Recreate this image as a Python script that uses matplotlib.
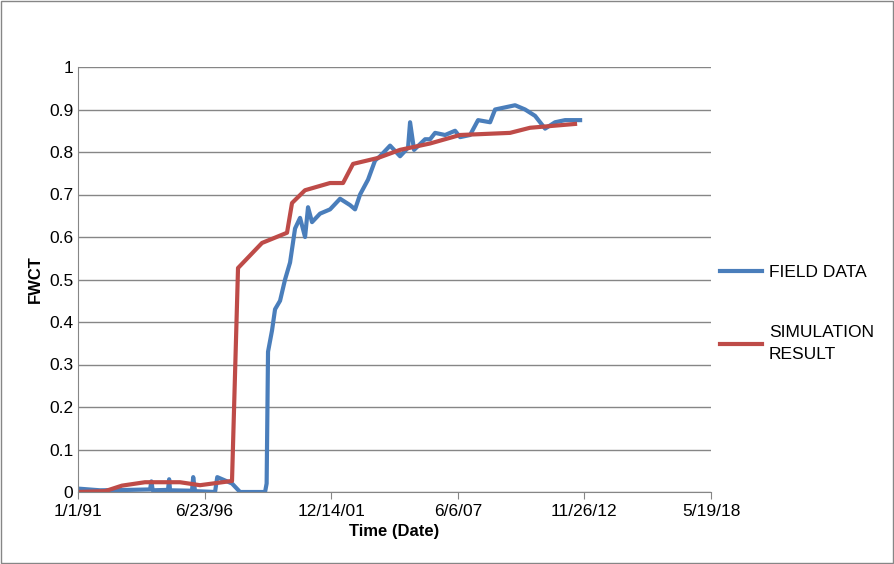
import matplotlib
matplotlib.use("Agg")
import matplotlib.pyplot as plt

plt.rcParams['font.family'] = ['Liberation Sans', 'DejaVu Sans']

# days since 1/1/91
tick_days = [0, 2000, 4000, 6000, 8000, 10000]
tick_labels = ["1/1/91", "6/23/96", "12/14/01", "6/6/07", "11/26/12", "5/19/18"]

field_days = [0, 348, 822, 1138, 1160, 1180, 1422, 1440, 1454, 1801, 1820, 1849, 2165, 2200, 2433, 2560, 2955,
              2980, 3002, 3065, 3113, 3192, 3271, 3350, 3429, 3508, 3587, 3634, 3697, 3824, 3982, 4140,
              4298, 4377, 4456, 4582, 4693, 4772, 4930, 5088, 5214, 5246, 5309, 5483, 5562, 5641,
              5799, 5957, 6036, 6194, 6320, 6510, 6589, 6747, 6905, 7063, 7221, 7379, 7537, 7695, 7932]
field_vals = [0.008, 0.004, 0.005, 0.006, 0.025, 0.004, 0.005, 0.03, 0.004, 0.003, 0.035, 0.002, 0.0, 0.035,
              0.02, 0.0, 0.0, 0.02, 0.33, 0.38, 0.43, 0.45, 0.5, 0.54, 0.62, 0.645, 0.6, 0.67, 0.635,
              0.655, 0.665, 0.69, 0.675, 0.665, 0.7, 0.735, 0.78, 0.79, 0.815, 0.79, 0.81, 0.87, 0.805,
              0.83, 0.83, 0.845, 0.84, 0.85, 0.835, 0.84, 0.875, 0.87, 0.9, 0.905, 0.91, 0.9, 0.885,
              0.855, 0.87, 0.875, 0.875]

sim_days = [0, 427, 695, 1058, 1611, 1927, 2433, 2528, 2907, 3302, 3381, 3586, 3981, 4187, 4345,
            4739, 5087, 5561, 6035, 6825, 7141, 7852]
sim_vals = [0.0, 0.002, 0.015, 0.023, 0.023, 0.016, 0.026, 0.527, 0.586, 0.61, 0.68, 0.71, 0.727,
            0.727, 0.772, 0.786, 0.805, 0.82, 0.84, 0.845, 0.857, 0.866]

fig = plt.figure(figsize=(8.95, 5.64), dpi=100)
ax = fig.add_axes([78/895, 1-492/564, (711-78)/895, (492-67)/564])
ax.plot(field_days, field_vals, color='#4a7ebb', lw=3, label='FIELD DATA')
ax.plot(sim_days, sim_vals, color='#be4b48', lw=3, label='SIMULATION\nRESULT')
ax.set_xlim(0, 10000)
ax.set_ylim(0, 1)
ax.set_xticks(tick_days)
ax.set_xticklabels(tick_labels)
ax.set_yticks([i/10 for i in range(11)])
ax.set_yticklabels(["0"] + [f"{i/10:g}" for i in range(1, 10)] + ["1"])
ax.grid(axis='y', color='#868686', lw=1)
ax.set_axisbelow(True)
for s in ['top', 'right']:
    ax.spines[s].set_visible(False)
for s in ['left', 'bottom']:
    ax.spines[s].set_color('#868686')
ax.tick_params(axis='both', labelsize=12.5, color='#868686', length=5)
ax.tick_params(axis='y', length=0)
ax.tick_params(axis='x', direction='out')
ax.set_xlabel('Time (Date)', fontsize=12, fontweight='bold')
ax.set_ylabel('FWCT', fontsize=12, fontweight='bold')
leg = ax.legend(loc='center left', bbox_to_anchor=(0.99, 0.42), frameon=False, fontsize=12.5,
                handlelength=2.4, labelspacing=2.6, handletextpad=0.4)
for t in leg.get_texts():
    t.set_linespacing(1.6)
fig.patches.append(plt.Rectangle((0.001, 0.001), 0.997, 0.997, transform=fig.transFigure,
                                 fill=False, edgecolor='#868686', lw=1))
fig.savefig('out.png', dpi=100)
